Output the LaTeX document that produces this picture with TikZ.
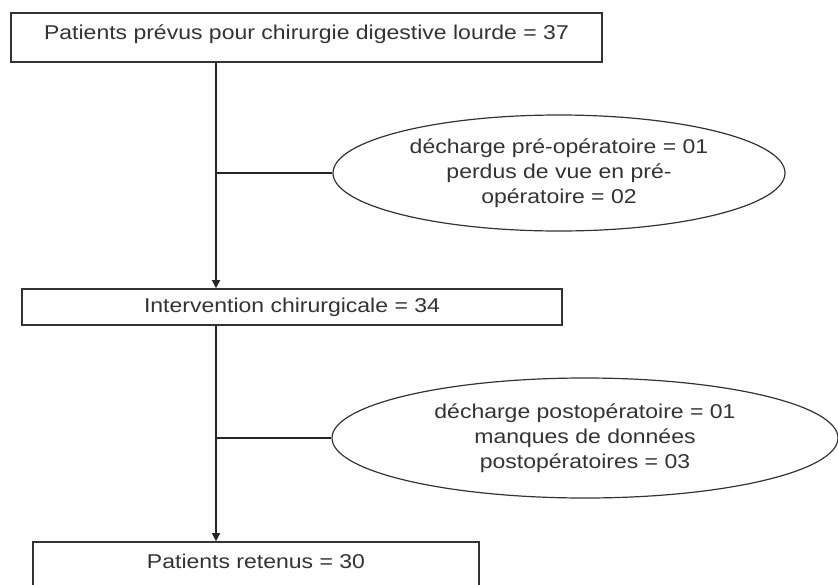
\documentclass[tikz,border=0pt]{standalone}
\usepackage{fontspec}
\setmainfont{Liberation Sans}[FakeStretch=1.15]
\usetikzlibrary{arrows.meta,positioning,shapes.geometric}

\begin{document}
\begin{tikzpicture}[>={Triangle[length=8pt,width=8pt]},x=1pt,y=-1pt,
    font=\fontsize{20}{25}\selectfont,text=black!80,
    box/.style={draw=black!80,line width=1.6pt,inner sep=0pt},
    tallbox/.style={box,minimum height=49pt,text height=15pt,text depth=12pt},
    note/.style={draw=black!80,line width=1.2pt,ellipse,inner sep=0pt,align=center},
    link/.style={draw=black!85,line width=1.3pt}]
    \useasboundingbox (0,0) rectangle (838,584);

    \node[tallbox,minimum width=591pt] (p1) at (306.5,37.5) {Patients prévus pour chirurgie digestive lourde = 37};
    \node[box,minimum width=540pt,minimum height=36pt] (p2) at (292,307) {Intervention chirurgicale = 34};
    \node[tallbox,minimum width=446pt] (p3) at (256,566.5) {Patients retenus = 30};

    \node[note,minimum width=452pt,minimum height=116pt] (e1) at (559,173) {décharge pré-opératoire = 01\\ perdus de vue en pré-\\ opératoire = 02};
    \node[note,minimum width=506pt,minimum height=120pt] (e2) at (585,438) {décharge postopératoire = 01\\ manques de données\\ postopératoires = 03};

    \coordinate (spine) at (216,0);

    \draw[link,->] (p1.south -| spine) -- (p2.north -| spine);
    \draw[link,->] (p2.south -| spine) -- (p3.north -| spine);
    \draw[link] (spine |- e1.west) -- (e1.west);
    \draw[link] (spine |- e2.west) -- (e2.west);
\end{tikzpicture}
\end{document}
